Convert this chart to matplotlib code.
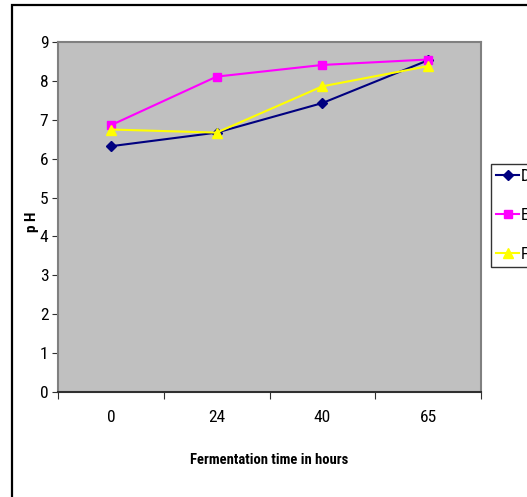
import matplotlib
matplotlib.use("Agg")
import matplotlib.pyplot as plt
from matplotlib import font_manager
from matplotlib.patches import Rectangle

names = {f.name for f in font_manager.fontManager.ttflist}
FONT = ['Liberation Sans', 'DejaVu Sans']
for cand in ['Liberation Sans Narrow', 'Roboto Condensed', 'Open Sans Condensed']:
    if cand in names:
        FONT = [cand, 'DejaVu Sans']
        break
plt.rcParams['font.family'] = FONT

categories = ["0", "24", "40", "65"]
series_names = ["D", "E", "F"]
D_vals = [6.32, 6.67, 7.43, 8.53]
E_vals = [6.86, 8.11, 8.41, 8.55]
F_vals = [6.75, 6.67, 7.86, 8.38]
y_ticks = [0, 1, 2, 3, 4, 5, 6, 7, 8, 9]

W, H = 527, 497
fig = plt.figure(figsize=(W / 100, H / 100), dpi=100)
fig.patch.set_facecolor('white')

# outer chart border
fig.patches.append(Rectangle((12 / W, -0.1), 1.2, 1 - 5 / H + 0.1, transform=fig.transFigure,
                             fill=False, edgecolor='black', linewidth=1.6))

ax = fig.add_axes([58 / W, (H - 392) / H, (481 - 58) / W, (392 - 42) / H])
ax.set_facecolor('#C0C0C0')

x = list(range(len(categories)))
ax.plot(x, D_vals, color='#000080', marker='D', markersize=5, linewidth=1.5, label=series_names[0])
ax.plot(x, E_vals, color='#FF00FF', marker='s', markersize=6, linewidth=1.5, label=series_names[1])
ax.plot(x, F_vals, color='#FFFF00', marker='^', markersize=7, linewidth=1.5, label=series_names[2])

ax.set_xlim(-0.5, len(categories) - 0.5)
ax.set_ylim(0, 9)
ax.set_yticks(y_ticks)
ax.set_yticklabels([str(v) for v in y_ticks], fontsize=12.5)
ax.set_xticks([i - 0.5 for i in range(len(categories) + 1)])
ax.set_xticklabels([])
ax.set_xticks(x, minor=True)
ax.set_xticklabels(categories, minor=True, fontsize=12.5)
ax.tick_params(axis='x', which='minor', length=0, pad=13)
ax.tick_params(axis='x', which='major', length=5, direction='out', color='#303030')
ax.tick_params(axis='y', length=4, direction='out', color='#303030', pad=3)

for s in ['top', 'right', 'left']:
    ax.spines[s].set_color('#808080')
    ax.spines[s].set_linewidth(1.5)
ax.spines['bottom'].set_color('#303030')
ax.spines['bottom'].set_linewidth(1.5)

fig.text(269 / W, 1 - 460 / H, "Fermentation time in hours", ha='center', va='center',
         fontsize=10.5, fontweight='bold')
fig.text(32 / W, 1 - 222 / H, "p H", ha='center', va='center', rotation=90,
         fontsize=11, fontweight='bold')

leg = fig.legend(loc='upper left', bbox_to_anchor=(491 / W, 1 - 164 / H), frameon=True,
                 fancybox=False, edgecolor='black', fontsize=12, handlelength=1.35,
                 labelspacing=1.42, borderpad=0.32, handletextpad=0.1, borderaxespad=0)
leg.get_frame().set_linewidth(1.0)

fig.savefig("out.png", dpi=100)
